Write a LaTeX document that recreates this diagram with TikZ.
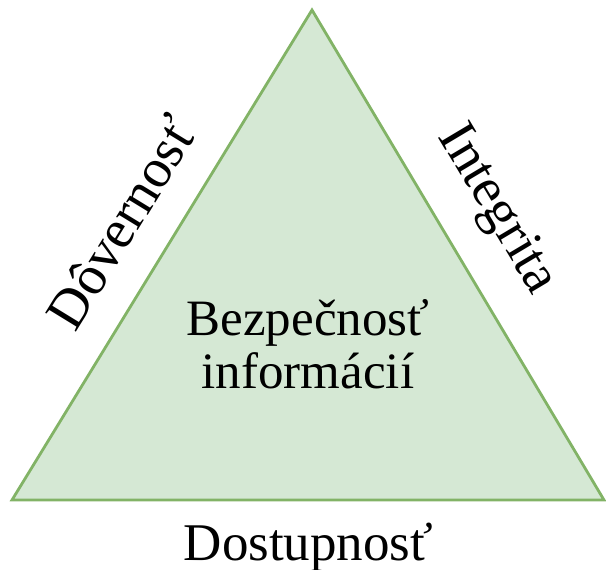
\documentclass[tikz,border=0pt]{standalone}
\usepackage{fontspec}
\setmainfont{Liberation Serif}
\definecolor{triFill}{HTML}{D5E8D4}
\definecolor{triLine}{HTML}{82B366}
\begin{document}
\begin{tikzpicture}[x=1pt,y=-1pt,
  side/.style={inner sep=0pt, font=\fontsize{55}{60}\selectfont},
  bottom/.style={inner sep=0pt, anchor=base, font=\fontsize{53}{58}\selectfont},
  center/.style={inner sep=0pt, anchor=base, align=center, font=\fontsize{51}{53}\selectfont}]
\useasboundingbox (0,0) rectangle (606,570);
% the triangle
\coordinate (top) at (312,10);
\coordinate (bl) at (12,500);
\coordinate (br) at (604,500);
\draw[triLine, fill=triFill, line width=2.8pt, line join=miter] (top) -- (bl) -- (br) -- cycle;
% labels (the centre node's base is the baseline of its last line)
\node[center] (core) at (308,388) {Bezpečnosť\\informácií};
\node[side, rotate=58.5] (conf) at (121,222) {Dôvernosť};
\node[side, rotate=-59.2] (integ) at (496,210) {Integrita};
\node[bottom] (avail) at (308.5,560) {Dostupnosť};
\end{tikzpicture}
\end{document}
